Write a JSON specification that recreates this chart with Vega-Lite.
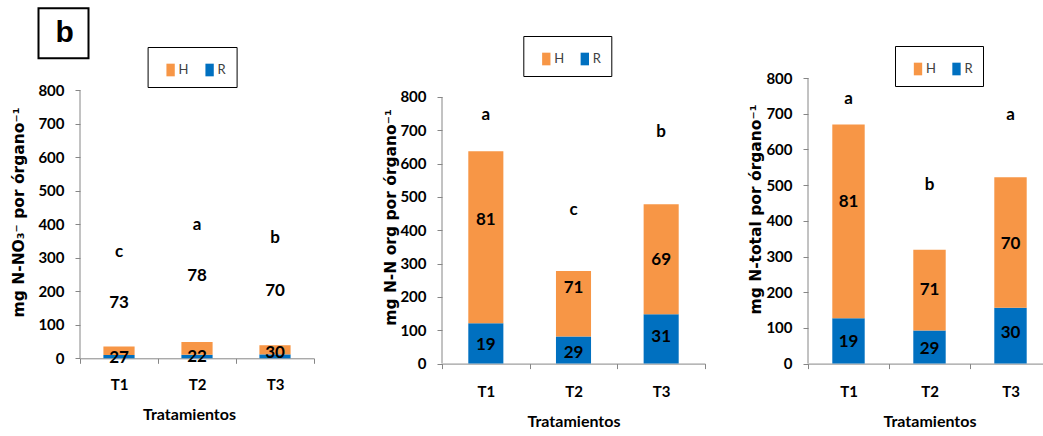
{
  "$schema": "https://vega.github.io/schema/vega-lite/v6.json",
  "background": "white",
  "padding": {"left": 11, "top": 6, "right": 0, "bottom": 0},
  "datasets": {
    "p1": [
      {"T": "T1", "part": "R", "v": 9.5, "pct": 27, "ly": 0},
      {"T": "T1", "part": "H", "v": 25.5, "pct": 73, "ly": 164},
      {"T": "T2", "part": "R", "v": 10.7, "pct": 22, "ly": 3},
      {"T": "T2", "part": "H", "v": 37.8, "pct": 78, "ly": 245},
      {"T": "T3", "part": "R", "v": 11.7, "pct": 30, "ly": 16},
      {"T": "T3", "part": "H", "v": 27.3, "pct": 70, "ly": 201}
    ],
    "l1": [
      {"T": "T1", "let": "c", "ly": 316},
      {"T": "T2", "let": "a", "ly": 397},
      {"T": "T3", "let": "b", "ly": 358}
    ],
    "p2": [
      {"T": "T1", "part": "R", "v": 121, "pct": 19, "ly": 55},
      {"T": "T1", "part": "H", "v": 516, "pct": 81, "ly": 430},
      {"T": "T2", "part": "R", "v": 81, "pct": 29, "ly": 32},
      {"T": "T2", "part": "H", "v": 197, "pct": 71, "ly": 226},
      {"T": "T3", "part": "R", "v": 148, "pct": 31, "ly": 80},
      {"T": "T3", "part": "H", "v": 330, "pct": 69, "ly": 310}
    ],
    "l2": [
      {"T": "T1", "let": "a", "ly": 745},
      {"T": "T2", "let": "c", "ly": 460},
      {"T": "T3", "let": "b", "ly": 695}
    ],
    "p3": [
      {"T": "T1", "part": "R", "v": 127, "pct": 19, "ly": 60},
      {"T": "T1", "part": "H", "v": 543, "pct": 81, "ly": 452},
      {"T": "T2", "part": "R", "v": 92.5, "pct": 29, "ly": 42},
      {"T": "T2", "part": "H", "v": 226.5, "pct": 71, "ly": 207},
      {"T": "T3", "part": "R", "v": 156.6, "pct": 30, "ly": 87},
      {"T": "T3", "part": "H", "v": 365.4, "pct": 70, "ly": 336}
    ],
    "l3": [
      {"T": "T1", "let": "a", "ly": 742},
      {"T": "T2", "let": "b", "ly": 499},
      {"T": "T3", "let": "a", "ly": 695}
    ]
  },
  "config": {
    "view": {"stroke": null},
    "axis": {
      "domainColor": "#868686",
      "tickColor": "#868686",
      "tickSize": 5,
      "grid": false,
      "labelFont": "Lato",
      "labelFontWeight": "bold",
      "labelFontSize": 15,
      "labelColor": "black",
      "labelOverlap": false,
      "titleColor": "black"
    },
    "axisY": {
      "domain": false,
      "labelPadding": 11,
      "labelOverlap": false,
      "tickCount": 9,
      "titleFont": "DejaVu Sans",
      "titleFontWeight": "bold",
      "titleFontSize": 15.5
    },
    "axisX": {
      "labelAngle": 0,
      "tickBand": "extent",
      "labelPadding": 16,
      "titleFont": "Lato",
      "titleFontWeight": "bold",
      "titleFontSize": 16,
      "titlePadding": 14
    },
    "legend": {
      "orient": "none",
      "direction": "horizontal",
      "title": null,
      "symbolType": "M-0.33,-0.5H0.33V0.5H-0.33Z",
      "symbolSize": 640,
      "symbolStrokeWidth": 0,
      "labelFont": "Lato",
      "labelFontSize": 13,
      "labelColor": "#404040",
      "labelOffset": -5,
      "columnPadding": 8,
      "strokeColor": "black",
      "padding": 10
    },
    "text": {"font": "Lato", "fontWeight": "bold", "fontSize": 17, "color": "black", "baseline": "middle", "align": "center"}
  },
  "bounds": "flush",
  "spacing": 128,
  "resolve": {
    "scale": {"x": "independent", "y": "independent", "color": "independent", "shape": "independent"},
    "legend": {"color": "independent", "shape": "independent"}
  },
  "hconcat": [
    {
      "width": 234,
      "height": 280.3,
      "layer": [
        {
          "data": {"name": "p1"},
          "mark": {"type": "bar", "width": {"band": 0.4}},
          "encoding": {
            "x": {"field": "T", "type": "nominal", "scale": {"paddingInner": 0, "paddingOuter": 0},
              "axis": {"title": "Tratamientos", "labelPadding": 14, "titleX": 109}},
            "y": {"field": "v", "type": "quantitative", "stack": "zero",
              "scale": {"domain": [0, 836.7], "nice": false},
              "axis": {"values": [0, 100, 200, 300, 400, 500, 600, 700, 800], "labelOverlap": false,
                "title": "mg N-NO₃⁻ por órgano⁻¹", "titleX": -53.5, "titleY": 134}},
            "color": {"field": "part", "type": "nominal",
              "scale": {"domain": ["H", "R"], "range": ["#F79646", "#0070C0"]},
              "legend": {"legendX": 67.6, "legendY": -31}},
            "order": {"field": "part", "sort": "descending"}
          }
        },
        {
          "data": {"name": "p1"},
          "mark": {"type": "text"},
          "encoding": {
            "x": {"field": "T", "type": "nominal"},
            "y": {"field": "ly", "type": "quantitative",
              "axis": {"values": [0, 100, 200, 300, 400, 500, 600, 700, 800], "labelOverlap": false}},
            "text": {"field": "pct"}
          }
        },
        {
          "data": {"name": "l1"},
          "mark": {"type": "text"},
          "encoding": {
            "x": {"field": "T", "type": "nominal"},
            "y": {"field": "ly", "type": "quantitative",
              "axis": {"values": [0, 100, 200, 300, 400, 500, 600, 700, 800], "labelOverlap": false}},
            "text": {"field": "let"}
          }
        },
        {
          "data": {"values": [{}]},
          "mark": {"type": "rule", "color": "#868686"},
          "encoding": {
            "x": {"datum": "T1", "bandPosition": 0},
            "y": {"datum": 0, "axis": {"values": [0, 100, 200, 300, 400, 500, 600, 700, 800], "labelOverlap": false}},
            "y2": {"datum": 800}
          }
        },
        {
          "data": {"values": [{}]},
          "mark": {"type": "point", "opacity": 0, "color": "black", "filled": false, "strokeWidth": 2},
          "encoding": {
            "x": {"datum": "T1"},
            "y": {"datum": 0, "axis": {"values": [0, 100, 200, 300, 400, 500, 600, 700, 800], "labelOverlap": false}},
            "shape": {"datum": "b",
              "scale": {"range": ["square"]},
              "legend": {"legendX": -42.5, "legendY": -70.7, "title": null, "padding": 0, "strokeColor": "transparent",
                "symbolType": "square", "symbolSize": 2500, "symbolOpacity": 1, "symbolStrokeWidth": 2,
                "symbolStrokeColor": "black", "symbolFillColor": "transparent", "labelOffset": -34,
                "labelFont": "Liberation Sans", "labelFontWeight": "bold", "labelFontSize": 30, "labelColor": "black"}}
          }
        }
      ]
    },
    {
      "bounds": "flush",
      "spacing": 103,
      "resolve": {
        "scale": {"x": "independent", "y": "independent", "color": "independent"},
        "legend": {"color": "independent"}
      },
      "hconcat": [
        {
          "width": 263,
          "height": 285.6,
          "layer": [
            {
              "data": {"name": "p2"},
              "mark": {"type": "bar", "width": {"band": 0.4}},
              "encoding": {
                "x": {"field": "T", "type": "nominal", "scale": {"paddingInner": 0, "paddingOuter": 0},
                  "axis": {"title": "Tratamientos"}},
                "y": {"field": "v", "type": "quantitative", "stack": "zero",
                  "scale": {"domain": [0, 857], "nice": false},
                  "axis": {"values": [0, 100, 200, 300, 400, 500, 600, 700, 800], "labelOverlap": false,
                    "title": "mg N-N org por órgano⁻¹", "titleX": -44, "titleY": 139}},
                "color": {"field": "part", "type": "nominal",
                  "scale": {"domain": ["H", "R"], "range": ["#F79646", "#0070C0"]},
                  "legend": {"legendX": 81.3, "legendY": -42, "columnPadding": 7.5}},
                "order": {"field": "part", "sort": "descending"}
              }
            },
            {
              "data": {"name": "p2"},
              "mark": {"type": "text"},
              "encoding": {
                "x": {"field": "T", "type": "nominal"},
                "y": {"field": "ly", "type": "quantitative",
                  "axis": {"values": [0, 100, 200, 300, 400, 500, 600, 700, 800], "labelOverlap": false}},
                "text": {"field": "pct"}
              }
            },
            {
              "data": {"name": "l2"},
              "mark": {"type": "text"},
              "encoding": {
                "x": {"field": "T", "type": "nominal"},
                "y": {"field": "ly", "type": "quantitative",
                  "axis": {"values": [0, 100, 200, 300, 400, 500, 600, 700, 800], "labelOverlap": false}},
                "text": {"field": "let"}
              }
            },
            {
              "data": {"values": [{}]},
              "mark": {"type": "rule", "color": "#868686"},
              "encoding": {
                "x": {"datum": "T1", "bandPosition": 0},
                "y": {"datum": 0, "axis": {"values": [0, 100, 200, 300, 400, 500, 600, 700, 800], "labelOverlap": false}},
                "y2": {"datum": 800}
              }
            }
          ]
        },
        {
          "width": 243,
          "height": 285.6,
          "layer": [
            {
              "data": {"name": "p3"},
              "mark": {"type": "bar", "width": {"band": 0.4}},
              "encoding": {
                "x": {"field": "T", "type": "nominal", "scale": {"paddingInner": 0, "paddingOuter": 0},
                  "axis": {"title": "Tratamientos"}},
                "y": {"field": "v", "type": "quantitative", "stack": "zero",
                  "scale": {"domain": [0, 800], "nice": false},
                  "axis": {"values": [0, 100, 200, 300, 400, 500, 600, 700, 800], "labelOverlap": false,
                    "title": "mg N-total por órgano⁻¹", "titleX": -45, "titleY": 131}},
                "color": {"field": "part", "type": "nominal",
                  "scale": {"domain": ["H", "R"], "range": ["#F79646", "#0070C0"]},
                  "legend": {"legendX": 87, "legendY": -32, "columnPadding": 7.5}},
                "order": {"field": "part", "sort": "descending"}
              }
            },
            {
              "data": {"name": "p3"},
              "mark": {"type": "text"},
              "encoding": {
                "x": {"field": "T", "type": "nominal"},
                "y": {"field": "ly", "type": "quantitative",
                  "axis": {"values": [0, 100, 200, 300, 400, 500, 600, 700, 800], "labelOverlap": false}},
                "text": {"field": "pct"}
              }
            },
            {
              "data": {"name": "l3"},
              "mark": {"type": "text"},
              "encoding": {
                "x": {"field": "T", "type": "nominal"},
                "y": {"field": "ly", "type": "quantitative",
                  "axis": {"values": [0, 100, 200, 300, 400, 500, 600, 700, 800], "labelOverlap": false}},
                "text": {"field": "let"}
              }
            },
            {
              "data": {"values": [{}]},
              "mark": {"type": "rule", "color": "#868686"},
              "encoding": {
                "x": {"datum": "T1", "bandPosition": 0},
                "y": {"datum": 0, "axis": {"values": [0, 100, 200, 300, 400, 500, 600, 700, 800], "labelOverlap": false}},
                "y2": {"datum": 800}
              }
            }
          ]
        }
      ]
    }
  ]
}
